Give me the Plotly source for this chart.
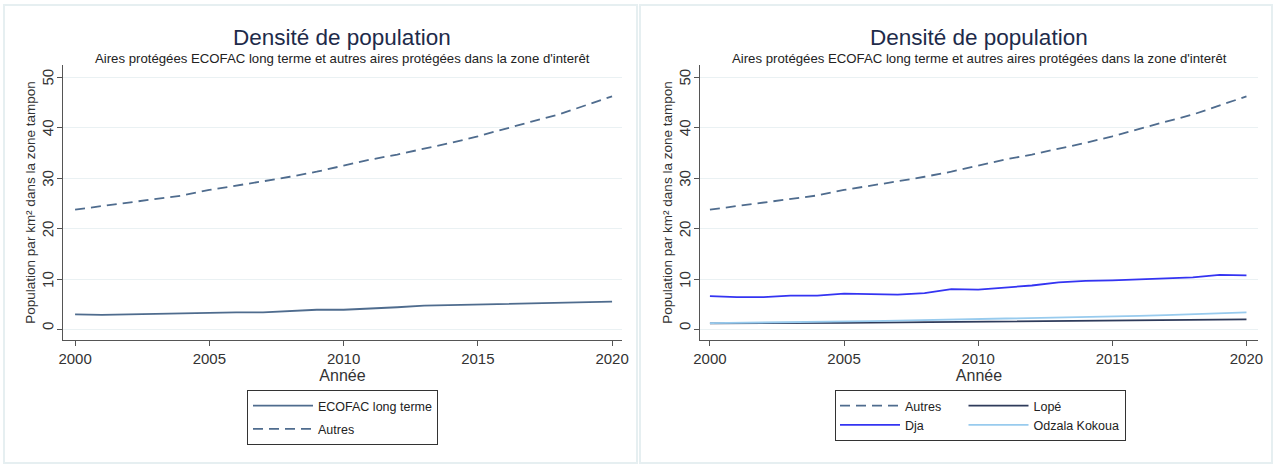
import plotly.graph_objects as go

# Years covered by both panels
years = list(range(2000, 2021))

# Population density (inhabitants per km² in the buffer zone)
ecofac_long_terme = [3.1, 3.0, 3.1, 3.2, 3.3, 3.5, 3.5, 3.5, 3.7, 4.0, 4.0,
                     4.2, 4.5, 4.8, 4.9, 5.0, 5.1, 5.2, 5.3, 5.5, 5.6]
autres = [23.8, 24.5, 25.1, 25.8, 26.6, 27.7, 28.5, 29.4, 30.3, 31.3, 32.5,
          33.7, 34.7, 35.8, 37.0, 38.3, 39.8, 41.2, 42.6, 44.4, 46.2]
dja = [6.7, 6.5, 6.5, 6.8, 6.8, 7.2, 7.1, 7.0, 7.3, 8.1, 8.0,
       8.4, 8.8, 9.4, 9.7, 9.8, 10.0, 10.3, 10.4, 10.9, 10.8]
lope = [1.3, 1.3, 1.3, 1.35, 1.4, 1.4, 1.45, 1.5, 1.5, 1.55, 1.6,
        1.65, 1.7, 1.75, 1.8, 1.85, 1.9, 1.95, 1.95, 2.05, 2.1]
odzala_kokoua = [1.35, 1.4, 1.45, 1.5, 1.6, 1.65, 1.75, 1.85, 1.95, 2.0, 2.1,
                 2.2, 2.35, 2.45, 2.55, 2.7, 2.8, 2.95, 3.1, 3.3, 3.5]

y_ticks = [0, 10, 20, 30, 40, 50]
x_ticks = [2000, 2005, 2010, 2015, 2020]

W, H = 1274, 464
FONT = "Liberation Sans, Arial, sans-serif"
SLATE = "#4F6C8E"
DASH = "10px,6px"
NBSP = "\u00a0"

fig = go.Figure()

# Left panel (one legend group per entry to space the rows)
fig.add_trace(go.Scatter(x=years, y=ecofac_long_terme, name="ECOFAC long terme",
                         legendgroup="a", mode="lines",
                         line=dict(color=SLATE, width=1.8),
                         xaxis="x", yaxis="y", legend="legend"))
fig.add_trace(go.Scatter(x=years, y=autres, name="Autres", legendgroup="b",
                         mode="lines", line=dict(color=SLATE, width=1.8, dash=DASH),
                         xaxis="x", yaxis="y", legend="legend"))

# Right panel: legend groups form the two legend columns
# (trailing non-breaking spaces widen the first column)
fig.add_trace(go.Scatter(x=years, y=autres, name="Autres" + NBSP * 5, legendgroup="c1",
                         mode="lines", line=dict(color=SLATE, width=1.8, dash=DASH),
                         xaxis="x2", yaxis="y2", legend="legend2"))
fig.add_trace(go.Scatter(x=years, y=dja, name="Dja", legendgroup="c1",
                         mode="lines", line=dict(color="#3434F2", width=1.8),
                         xaxis="x2", yaxis="y2", legend="legend2"))
fig.add_trace(go.Scatter(x=years, y=lope, name="Lopé", legendgroup="c2",
                         mode="lines", line=dict(color="#2E3B5B", width=1.8),
                         xaxis="x2", yaxis="y2", legend="legend2"))
fig.add_trace(go.Scatter(x=years, y=odzala_kokoua, name="Odzala Kokoua", legendgroup="c2",
                         mode="lines", line=dict(color="#98CBEE", width=1.8),
                         xaxis="x2", yaxis="y2", legend="legend2"))


def px_x(p):
    return p / W


def px_y(p):
    return 1 - p / H


y_dom = [px_y(340), px_y(65)]
common_x = dict(tickmode="array", tickvals=x_ticks, ticks="outside", ticklen=5,
                tickcolor="#555", tickwidth=1, showline=True, linecolor="#555",
                linewidth=1.3, showgrid=False, zeroline=False, automargin=False,
                tickfont=dict(family=FONT, size=15, color="#333"),
                title=dict(text="Année", font=dict(family=FONT, size=16, color="#333"),
                           standoff=2))
# Vertical tick labels reading bottom-to-top, re-centred on their ticks
common_y = dict(tickmode="array", tickvals=y_ticks,
                ticks="outside", ticklen=5, tickangle=-89.9, ticklabelshift=-6,
                ticklabelstandoff=8, automargin=False,
                tickcolor="#555", tickwidth=1, showline=True, linecolor="#555",
                linewidth=1.3, showgrid=True, gridcolor="#EAF1F3", gridwidth=1,
                zeroline=False, range=[-1.98, 52.4], domain=y_dom,
                tickfont=dict(family=FONT, size=15, color="#333"),
                title=dict(text="Population par km² dans la zone tampon",
                           font=dict(family=FONT, size=13.5, color="#333"), standoff=0))

fig.update_layout(
    width=W, height=H,
    margin=dict(l=0, r=0, t=0, b=0, autoexpand=False),
    paper_bgcolor="white", plot_bgcolor="white",
    font=dict(family=FONT, color="#333"),
    xaxis=dict(domain=[px_x(63), px_x(622)], range=[1999.55, 2020.37], anchor="y", **common_x),
    yaxis=dict(anchor="x", **common_y),
    xaxis2=dict(domain=[px_x(700), px_x(1258)], range=[1999.63, 2020.43], anchor="y2", **common_x),
    yaxis2=dict(anchor="x2", **common_y),
    legend=dict(x=px_x(247), y=px_y(390), xanchor="left", yanchor="top",
                orientation="v", bordercolor="#333", borderwidth=1,
                font=dict(family=FONT, size=12.5, color="#222"),
                itemwidth=60, tracegroupgap=4, bgcolor="white"),
    legend2=dict(x=px_x(835), y=px_y(390), xanchor="left", yanchor="top",
                 orientation="h", bordercolor="#333", borderwidth=1,
                 font=dict(family=FONT, size=12.5, color="#222"),
                 itemwidth=60, tracegroupgap=10, bgcolor="white"),
    showlegend=True,
)

# Panel frames
for x0, x1 in [(4, 637), (640, 1272)]:
    fig.add_shape(type="rect", xref="paper", yref="paper",
                  x0=px_x(x0), x1=px_x(x1), y0=px_y(463), y1=px_y(5),
                  line=dict(color="#E6EFF1", width=2), layer="below")

# Panel titles and subtitles
for cx in [342, 979]:
    fig.add_annotation(text="Densité de population", x=px_x(cx), y=px_y(37),
                       xref="paper", yref="paper", showarrow=False,
                       xanchor="center", yanchor="middle",
                       font=dict(family=FONT, size=22.5, color="#1E2B4A"))
    fig.add_annotation(text="Aires protégées ECOFAC long terme et autres aires protégées dans la zone d'interêt",
                       x=px_x(cx), y=px_y(58), xref="paper", yref="paper",
                       showarrow=False, xanchor="center", yanchor="middle",
                       font=dict(family=FONT, size=13.2, color="#222"))

fig.write_html("out.html")
